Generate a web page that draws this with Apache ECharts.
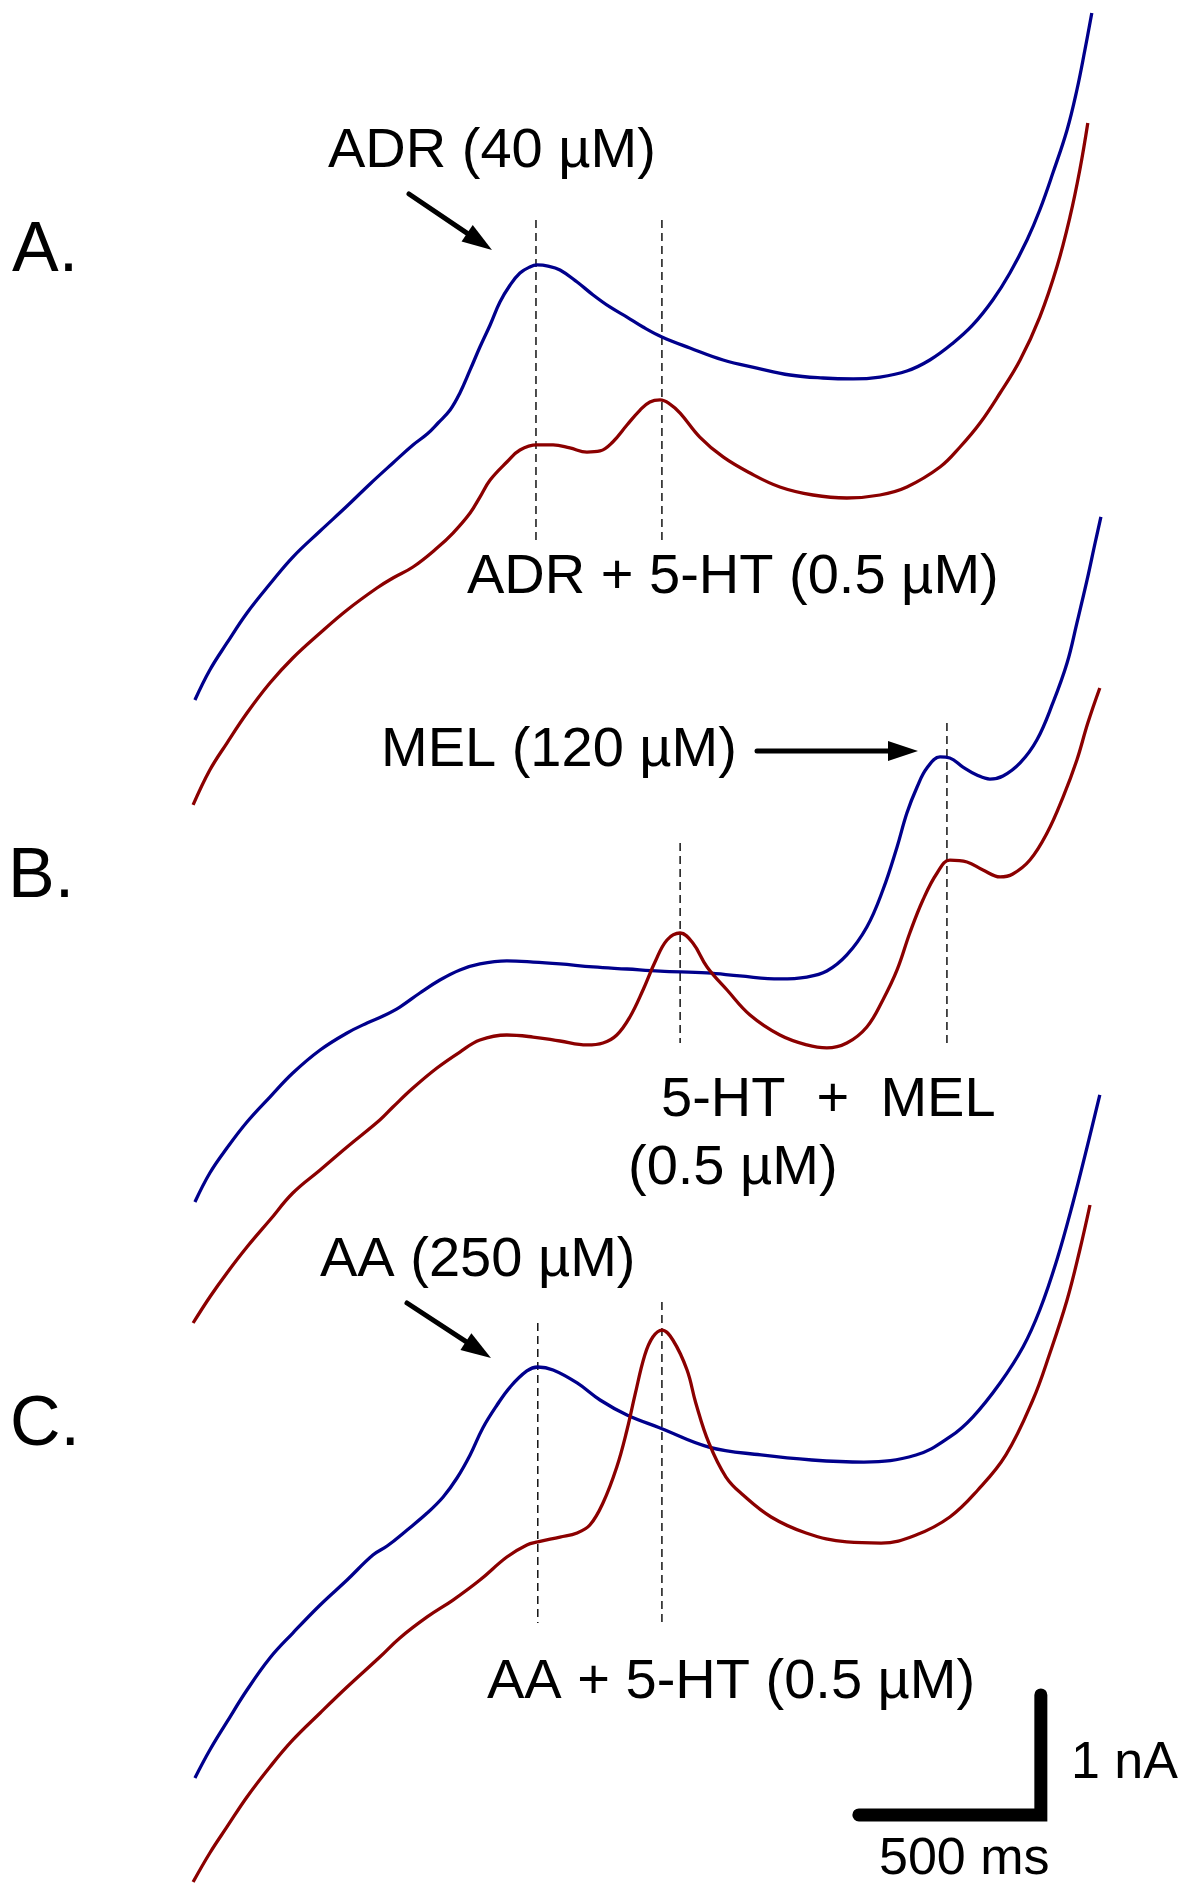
<!DOCTYPE html>
<html><head><meta charset="utf-8">
<script src="https://cdn.jsdelivr.net/npm/echarts@6/dist/echarts.min.js"></script>
<style>html,body{margin:0;padding:0;background:#fff}#c{width:1181px;height:1883px}</style>
</head><body><div id="c"></div>
<script>
// ---------- DATA: time (ms), current (nA) ----------
const panelLabels = ['A.', 'B.', 'C.'];
const annotationTexts = ['ADR (40 \u00b5M)', 'ADR + 5-HT (0.5 \u00b5M)', 'MEL (120 \u00b5M)', '5-HT  +  MEL', '(0.5 \u00b5M)', 'AA (250 \u00b5M)', 'AA + 5-HT (0.5 \u00b5M)'];
const scaleBarMs = 500;
const scaleBarNA = 1;
const scaleBarUnits = ['1 nA', '500 ms'];

// Panel A
const adrTrace = [[8,1.167],[49,1.417],[96,1.642],[151,1.892],[214,2.133],[277,2.358],[352,2.575],[426,2.783],[489,2.967],[552,3.142],[607,3.292],[646,3.383],[676,3.475],[709,3.583],[736,3.725],[764,3.917],[791,4.108],[819,4.292],[846,4.483],[874,4.625],[901,4.725],[928,4.775],[948,4.792],[978,4.783],[1011,4.75],[1058,4.65],[1102,4.542],[1148,4.442],[1195,4.358],[1239,4.275],[1291,4.192],[1368,4.1],[1459,4.0],[1552,3.933],[1643,3.875],[1733,3.85],[1816,3.842],[1890,3.858],[1964,3.908],[2027,4.0],[2091,4.142],[2145,4.292],[2200,4.5],[2247,4.725],[2294,5.0],[2329,5.25],[2365,5.558],[2404,5.917],[2431,6.25],[2453,6.583],[2472,6.892]];
const adrHtTrace = [[3,0.292],[49,0.583],[96,0.808],[151,1.058],[214,1.308],[277,1.517],[352,1.725],[426,1.917],[508,2.1],[552,2.183],[607,2.275],[673,2.433],[717,2.558],[764,2.725],[791,2.858],[819,3.0],[865,3.15],[901,3.25],[948,3.292],[992,3.292],[1038,3.267],[1085,3.233],[1121,3.242],[1156,3.317],[1195,3.458],[1231,3.583],[1258,3.65],[1286,3.667],[1313,3.633],[1341,3.558],[1395,3.358],[1459,3.192],[1533,3.058],[1615,2.942],[1706,2.875],[1799,2.85],[1890,2.875],[1964,2.942],[2055,3.108],[2110,3.275],[2165,3.475],[2220,3.725],[2275,4.0],[2329,4.358],[2376,4.775],[2412,5.192],[2439,5.583],[2461,5.975]];

// Panel B
const melTrace = [[8,1.483],[49,1.725],[96,1.933],[151,2.15],[214,2.358],[277,2.558],[352,2.75],[426,2.892],[481,2.975],[525,3.033],[571,3.108],[626,3.225],[681,3.333],[736,3.417],[791,3.467],[865,3.492],[937,3.483],[1011,3.467],[1102,3.442],[1195,3.425],[1286,3.408],[1415,3.392],[1505,3.367],[1615,3.342],[1689,3.358],[1744,3.408],[1799,3.542],[1854,3.775],[1898,4.083],[1937,4.442],[1964,4.725],[1992,4.942],[2019,5.1],[2055,5.192],[2082,5.183],[2118,5.108],[2156,5.042],[2192,5.008],[2228,5.033],[2275,5.142],[2321,5.333],[2365,5.642],[2404,5.975],[2431,6.308],[2459,6.667],[2481,6.975],[2497,7.192]];
const melHtTrace = [[3,0.475],[49,0.692],[96,0.892],[151,1.108],[214,1.333],[277,1.558],[352,1.75],[426,1.942],[516,2.167],[552,2.275],[607,2.433],[673,2.6],[736,2.733],[791,2.833],[865,2.875],[937,2.858],[1011,2.825],[1085,2.792],[1129,2.808],[1167,2.875],[1203,3.025],[1239,3.25],[1272,3.483],[1305,3.667],[1341,3.725],[1376,3.642],[1415,3.442],[1470,3.25],[1533,3.042],[1615,2.875],[1689,2.792],[1744,2.767],[1799,2.808],[1854,2.942],[1898,3.167],[1937,3.417],[1972,3.725],[2008,4.0],[2047,4.225],[2082,4.333],[2129,4.317],[2173,4.25],[2220,4.192],[2255,4.217],[2302,4.333],[2349,4.558],[2393,4.858],[2431,5.167],[2461,5.475],[2494,5.767]];

// Panel C
const aaTrace = [[8,0.875],[49,1.108],[96,1.342],[151,1.608],[214,1.875],[277,2.083],[352,2.317],[426,2.525],[497,2.733],[536,2.808],[591,2.942],[646,3.083],[690,3.217],[728,3.375],[764,3.567],[799,3.792],[838,3.983],[874,4.133],[920,4.267],[950,4.3],[992,4.275],[1058,4.167],[1121,4.025],[1195,3.9],[1286,3.792],[1420,3.633],[1563,3.567],[1703,3.525],[1846,3.508],[1989,3.567],[2082,3.717],[2145,3.883],[2220,4.167],[2283,4.467],[2329,4.775],[2376,5.192],[2420,5.667],[2459,6.133],[2494,6.567]];
const aaHtTrace = [[3,0.008],[49,0.25],[96,0.467],[151,0.717],[214,0.967],[277,1.192],[352,1.417],[426,1.633],[516,1.883],[571,2.042],[646,2.217],[717,2.358],[791,2.525],[865,2.717],[920,2.817],[950,2.842],[1011,2.883],[1058,2.917],[1093,2.983],[1129,3.167],[1167,3.467],[1195,3.775],[1217,4.067],[1244,4.4],[1266,4.55],[1291,4.608],[1321,4.525],[1360,4.275],[1384,4.0],[1420,3.667],[1467,3.383],[1514,3.233],[1591,3.05],[1687,2.917],[1799,2.842],[1893,2.833],[1989,2.9],[2082,3.05],[2159,3.275],[2236,3.567],[2310,4.025],[2357,4.417],[2404,4.858],[2439,5.275],[2467,5.65]];

// Peak markers (dashed): [time ms, top nA, bottom nA]
const peakMarksA = [[945,5.167,2.492],[1291,5.167,2.492]];
const peakMarksB = [[1341,4.475,2.808],[2074,5.475,2.808]];
const peakMarksC = [[950,4.667,2.167],[1291,4.842,2.167]];

// ---------- LAYOUT ----------
const FONT = '"Liberation Sans", Arial, Helvetica, sans-serif';
const BLUE = '#00008c', RED = '#8b0000';
const grids = [
  {left: 192, width: 910, top: 0, height: 840},
  {left: 192, width: 910, top: 420, height: 960},
  {left: 192, width: 910, top: 1043, height: 840}
];
const yMax = [7, 8, 7];

const chart = echarts.init(document.getElementById('c'), null, {renderer: 'canvas'});

function traceSeries(data, gi, color) {
  return {type: 'line', xAxisIndex: gi, yAxisIndex: gi, data: data, showSymbol: false,
    smooth: 0.4, clip: false, lineStyle: {color: color, width: 3.3}, silent: true, z: 3};
}
function dashSeries(marks, gi) {
  return marks.map(m => ({type: 'line', xAxisIndex: gi, yAxisIndex: gi,
    data: [[m[0], m[1]], [m[0], m[2]]], showSymbol: false, silent: true, z: 2,
    lineStyle: {color: '#000', width: 1.4, type: [8, 5]}}));
}

// scale bar anchored in panel C coordinates
const sbCornerT = 2332, sbCornerI = 0.567;
const scaleBar = {type: 'line', xAxisIndex: 2, yAxisIndex: 2, showSymbol: false, silent: true,
  data: [[sbCornerT - scaleBarMs, sbCornerI], [sbCornerT, sbCornerI], [sbCornerT, sbCornerI + scaleBarNA]],
  lineStyle: {color: '#000', width: 13, cap: 'round', join: 'miter'}, z: 5};

function txt(text, x, baseline, size) {
  return {type: 'text', silent: true, z: 10,
    style: {text: text, x: x, y: baseline - 0.35 * size, fill: '#000',
      font: size + 'px ' + FONT, verticalAlign: 'middle', align: 'left'}};
}
function arrow(x1, y1, x2, y2) {
  const dx = x2 - x1, dy = y2 - y1, L = Math.hypot(dx, dy), ux = dx / L, uy = dy / L;
  const hl = 30, hw = 10;
  const bx = x2 - ux * hl, by = y2 - uy * hl;
  return [
    {type: 'line', silent: true, z: 10, shape: {x1: x1, y1: y1, x2: bx + ux * 2, y2: by + uy * 2},
      style: {stroke: '#000', lineWidth: 5, lineCap: 'round'}},
    {type: 'polygon', silent: true, z: 10,
      shape: {points: [[x2, y2], [bx - uy * hw, by + ux * hw], [bx + uy * hw, by - ux * hw]]},
      style: {fill: '#000'}}
  ];
}

const graphics = [
  txt(panelLabels[0], 12, 276, 70),
  txt(panelLabels[1], 8, 902, 70),
  txt(panelLabels[2], 10, 1450, 70),
  txt(annotationTexts[0], 328, 171, 56),
  txt(annotationTexts[1], 467, 597, 56),
  txt(annotationTexts[2], 381, 770, 56),
  txt(annotationTexts[3], 661, 1120, 56),
  txt(annotationTexts[4], 628, 1188, 56),
  txt(annotationTexts[5], 320, 1280, 56),
  txt(annotationTexts[6], 487, 1702, 56),
  txt(scaleBarUnits[0], 1071, 1782, 52),
  txt(scaleBarUnits[1], 879, 1878, 52)
].concat(arrow(409, 194, 492, 250), arrow(757, 751, 918, 751), arrow(407, 1303, 491, 1358));

chart.setOption({
  animation: false,
  backgroundColor: '#fff',
  grid: grids,
  xAxis: grids.map((g, i) => ({type: 'value', gridIndex: i, min: 0, max: 2500, show: false})),
  yAxis: grids.map((g, i) => ({type: 'value', gridIndex: i, min: 0, max: yMax[i], show: false})),
  series: [
    traceSeries(adrTrace, 0, BLUE), traceSeries(adrHtTrace, 0, RED),
    traceSeries(melTrace, 1, BLUE), traceSeries(melHtTrace, 1, RED),
    traceSeries(aaTrace, 2, BLUE), traceSeries(aaHtTrace, 2, RED),
    scaleBar
  ].concat(dashSeries(peakMarksA, 0), dashSeries(peakMarksB, 1), dashSeries(peakMarksC, 2)),
  graphic: graphics
});
</script></body></html>
